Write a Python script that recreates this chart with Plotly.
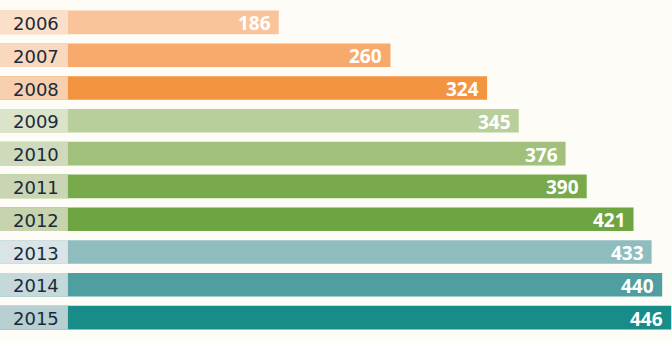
import plotly.graph_objects as go

years = ["2006", "2007", "2008", "2009", "2010", "2011", "2012", "2013", "2014", "2015"]
values = [186, 260, 324, 345, 376, 390, 421, 433, 440, 446]
bar_colors = ["#f9c49a", "#f7aa6c", "#f39441", "#b8cf9c", "#a0c07c", "#78aa4b", "#6fa442",
              "#8fbdbf", "#4f9fa0", "#188c88"]
label_colors = ["#fbe0c9", "#f9d8bd", "#f7cfae", "#dbe3c9", "#cfdabd", "#c9d5b3", "#c6d3ad",
                "#d8e4e5", "#c6d9da", "#b7cfd1"]
LABEL_W = 46.3  # width of the year label box (axis units)

fig = go.Figure()
fig.add_trace(go.Bar(
    y=years, x=values, orientation="h", base=0,
    marker=dict(color=bar_colors, line=dict(width=0)),
    hoverinfo="skip",
))
fig.add_trace(go.Bar(
    y=years, x=[LABEL_W] * len(years), orientation="h", base=0,
    marker=dict(color=label_colors, line=dict(width=0)),
    hoverinfo="skip",
))
annotations = []
for i, (yr, v) in enumerate(zip(years, values)):
    annotations.append(dict(
        x=v, y=i, xref="x", yref="y", text=f"<b>{v}</b>", showarrow=False,
        xanchor="right", yanchor="middle", xshift=-6, yshift=-1,
        font=dict(family="Open Sans", size=19, color="white"),
    ))
    annotations.append(dict(
        x=LABEL_W, y=i, xref="x", yref="y", text=yr, showarrow=False,
        xanchor="right", yanchor="middle", xshift=-7, yshift=-1,
        font=dict(family="DejaVu Sans", size=18, color="#1b2a3a"),
    ))
fig.update_layout(
    width=672, height=341, barmode="overlay", bargap=0.28, showlegend=False,
    margin=dict(l=0, r=0, t=6, b=7),
    paper_bgcolor="#fdfcf7", plot_bgcolor="#fdfcf7",
    annotations=annotations,
    xaxis=dict(range=[1.3, 446.5], visible=False, fixedrange=True),
    yaxis=dict(range=[9.5, -0.5], autorange=False, visible=False, fixedrange=True,
               type="category", categoryorder="array", categoryarray=years),
)
fig.write_html("out.html")
